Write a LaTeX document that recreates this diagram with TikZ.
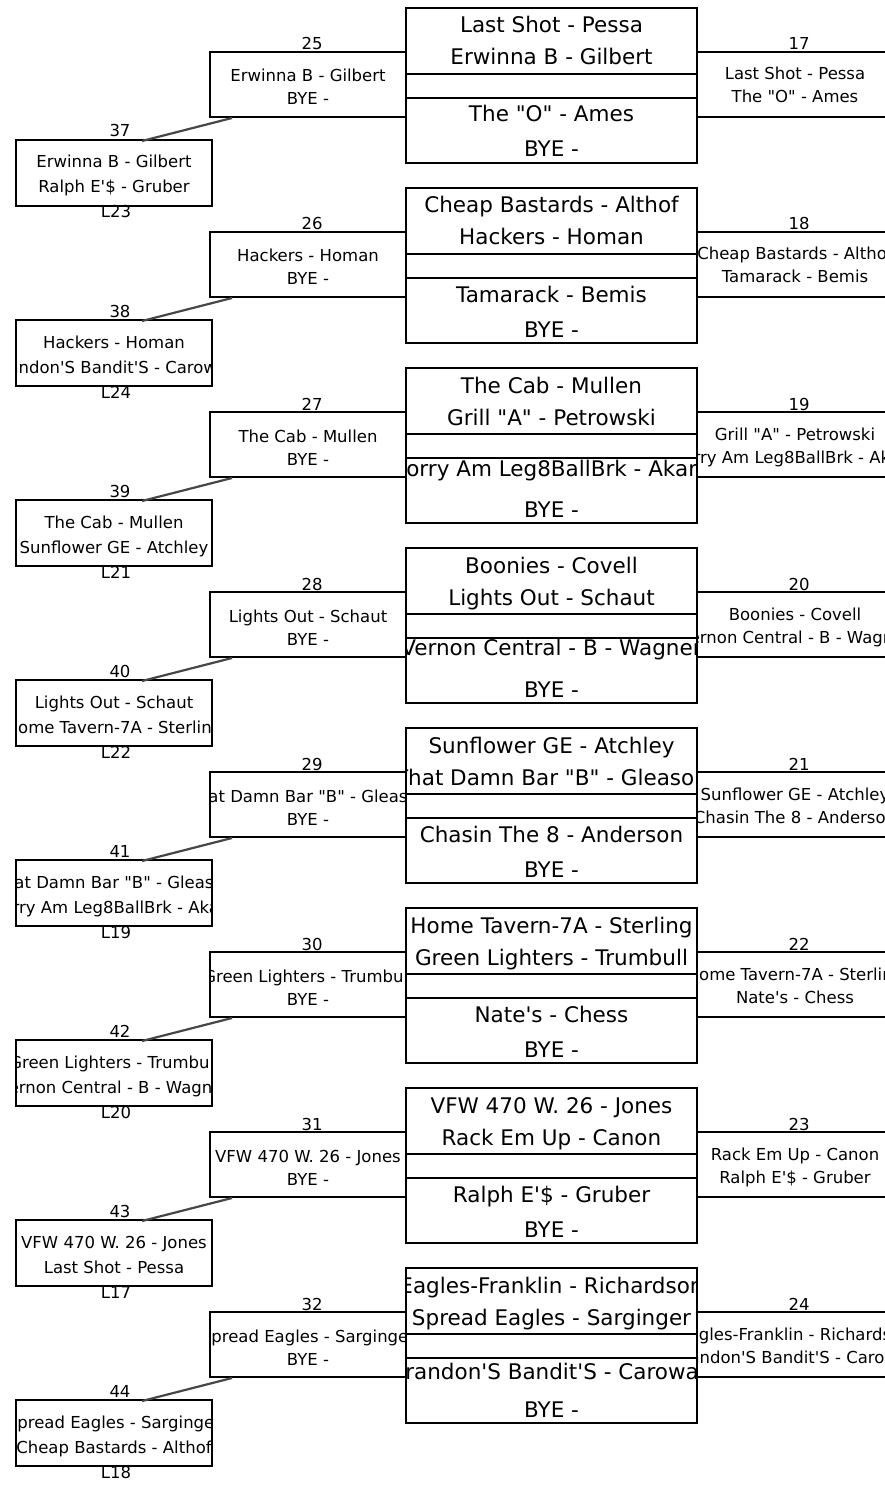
\documentclass[tikz,border=0pt]{standalone}
\usepackage{fontspec}
\newfontfamily\brkfont{DejaVu Sans}[Ligatures=TeXOff]
\tikzset{
  box/.style={draw, line width=2pt, inner sep=0pt, outer sep=0pt, anchor=north west},
  bl/.style={line width=2pt},
  conn/.style={line width=2.2pt, draw=black!72},
  bigtxt/.style={anchor=base, inner sep=0pt, font=\brkfont\fontsize{21.5}{24}\selectfont},
  smtxt/.style={anchor=base, inner sep=0pt, font=\brkfont\fontsize{16.5}{19}\selectfont},
}
\newcommand\ctext[6]{%
  \begin{scope}
    \clip (#3,#5-30) rectangle (#4,#5+15);
    \node[#2] (#1) at ({(#3+#4)/2},#5) {#6};
  \end{scope}}
\begin{document}
\begin{tikzpicture}[x=1pt,y=-1pt]
\useasboundingbox (0,0) rectangle (884,1487);
\foreach \i/\ba/\bb/\bc/\bd/\dy/\ln/\la/\rn/\ra/\rb/\bn/\xa/\xb/\lab in {
 0/{Last Shot - Pessa}/{Erwinna B - Gilbert}/{The "O" - Ames}/{BYE -}/0/25/{Erwinna B - Gilbert}/17/{Last Shot - Pessa}/{The "O" - Ames}/37/{Erwinna B - Gilbert}/{Ralph E'\$ - Gruber}/L23,
 1/{Cheap Bastards - Althof}/{Hackers - Homan}/{Tamarack - Bemis}/{BYE -}/0/26/{Hackers - Homan}/18/{Cheap Bastards - Althof}/{Tamarack - Bemis}/38/{Hackers - Homan}/{Brandon'S Bandit'S - Carowan}/L24,
 2/{The Cab - Mullen}/{Grill "A" - Petrowski}/{Sorry Am Leg8BallBrk - Akard}/{BYE -}/-6/27/{The Cab - Mullen}/19/{Grill "A" - Petrowski}/{Sorry Am Leg8BallBrk - Akard}/39/{The Cab - Mullen}/{Sunflower GE - Atchley}/L21,
 3/{Boonies - Covell}/{Lights Out - Schaut}/{Vernon Central - B - Wagner}/{BYE -}/-7/28/{Lights Out - Schaut}/20/{Boonies - Covell}/{Vernon Central - B - Wagner}/40/{Lights Out - Schaut}/{Home Tavern-7A - Sterling}/L22,
 4/{Sunflower GE - Atchley}/{That Damn Bar "B" - Gleason}/{Chasin The 8 - Anderson}/{BYE -}/0/29/{That Damn Bar "B" - Gleason}/21/{Sunflower GE - Atchley}/{Chasin The 8 - Anderson}/41/{That Damn Bar "B" - Gleason}/{Sorry Am Leg8BallBrk - Akard}/L19,
 5/{Home Tavern-7A - Sterling}/{Green Lighters - Trumbull}/{Nate's - Chess}/{BYE -}/0/30/{Green Lighters - Trumbull}/22/{Home Tavern-7A - Sterling}/{Nate's - Chess}/42/{Green Lighters - Trumbull}/{Vernon Central - B - Wagner}/L20,
 6/{VFW 470 W. 26 - Jones}/{Rack Em Up - Canon}/{Ralph E'\$ - Gruber}/{BYE -}/0/31/{VFW 470 W. 26 - Jones}/23/{Rack Em Up - Canon}/{Ralph E'\$ - Gruber}/43/{VFW 470 W. 26 - Jones}/{Last Shot - Pessa}/L17,
 7/{Eagles-Franklin - Richardson}/{Spread Eagles - Sarginger}/{Brandon'S Bandit'S - Carowan}/{BYE -}/-3/32/{Spread Eagles - Sarginger}/24/{Eagles-Franklin - Richardson}/{Brandon'S Bandit'S - Carowan}/44/{Spread Eagles - Sarginger}/{Cheap Bastards - Althof}/L18}{
  \pgfmathsetmacro\T{8+180*\i}
  % texts of the central box
  \ctext{ba\i}{bigtxt}{406}{697}{\T+25}{\ba}
  \ctext{bb\i}{bigtxt}{406}{697}{\T+57}{\bb}
  \ctext{bc\i}{bigtxt}{406}{697}{\T+114+\dy}{\bc}
  \ctext{bd\i}{bigtxt}{406}{697}{\T+149}{\bd}
  % left match box
  \ctext{la\i}{smtxt}{210}{406}{\T+74}{\la}
  \ctext{lb\i}{smtxt}{210}{406}{\T+97}{BYE -}
  \node[smtxt] (ln\i) at (312,\T+42) {\ln};
  % right match
  \ctext{ra\i}{smtxt}{697}{893}{\T+72}{\ra}
  \ctext{rb\i}{smtxt}{697}{893}{\T+95}{\rb}
  \node[smtxt] (rn\i) at (799,\T+42) {\rn};
  % bottom-left match box
  \ctext{xa\i}{smtxt}{16}{212}{\T+160}{\xa}
  \ctext{xb\i}{smtxt}{16}{212}{\T+185}{\xb}
  \node[smtxt] (xn\i) at (120,\T+129) {\bn};
  \node[smtxt] (xl\i) at (116,\T+210) {\lab};
  % boxes
  \node[box, minimum width=291pt, minimum height=155pt] (big\i) at (406,\T) {};
  \draw[bl] (406,\T+66) -- (697,\T+66);
  \draw[bl] (406,\T+90) -- (697,\T+90);
  \node[box, minimum width=196pt, minimum height=65pt] (L\i) at (210,\T+44) {};
  \node[box, minimum width=196pt, minimum height=66pt] (X\i) at (16,\T+132) {};
  \coordinate (rt\i) at (893,\T+44);
  \coordinate (rbt\i) at (893,\T+109);
  \draw[bl] (L\i.north -| big\i.east) -- (rt\i);
  \draw[bl] (L\i.south -| big\i.east) -- (rbt\i);
  \coordinate (cs\i) at (232,\T+110);
  \coordinate (ce\i) at (142,\T+133);
  \draw[conn] (cs\i) -- (ce\i);
}
\end{tikzpicture}
\end{document}
